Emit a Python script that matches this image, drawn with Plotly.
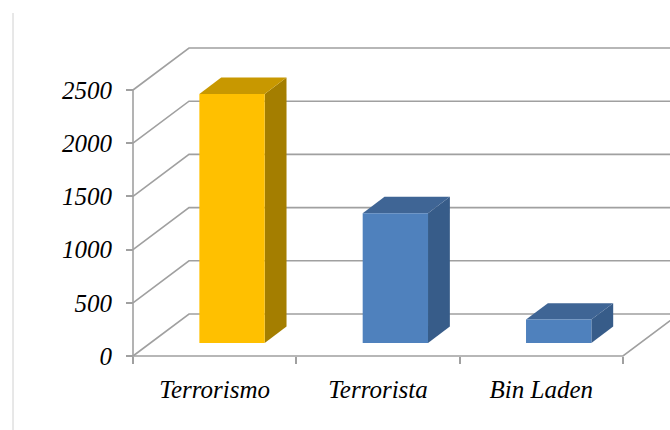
import plotly.graph_objects as go

# ---------------- data ----------------
categories = ["Terrorismo", "Terrorista", "Bin Laden"]
values = [2340, 1220, 220]
front_colors = ["#FFC000", "#4F81BD", "#4F81BD"]
top_colors = ["#C89800", "#3F6595", "#3F6595"]
side_colors = ["#A47E00", "#375C89", "#375C89"]
y_ticks = [0, 500, 1000, 1500, 2000, 2500]

# ---------------- geometry (oblique 3D projection) ----------------
W, H = 670, 430
X0_PX, Y0_PX = 133, 356          # pixel of (category 0, value 0) on front plane
CAT_PX = 163.33                   # pixels per category
VAL_PX = (356 - 90) / 2500        # pixels per value unit
DX = 56 / CAT_PX                  # depth shift in category units
DY = 42 / VAL_PX                  # depth shift in value units
BAR_W = 0.40
F0, F1 = 0.31, 0.70               # bar front / back depth fractions
N = len(categories)
GRID = "#A0A0A0"
FONT = dict(family="Liberation Serif, Times New Roman, serif", size=25,
            color="#000000", style="italic")

x_range = [-X0_PX / CAT_PX, (W - X0_PX) / CAT_PX]
y_range = [-(H - Y0_PX) / VAL_PX, Y0_PX / VAL_PX]

fig = go.Figure()

# grid: left wall diagonals + back wall horizontals
gx, gy = [], []
for t in y_ticks:
    gx += [0, DX, N + DX + 0.2, None]
    gy += [t, t + DY, t + DY, None]
# front vertical axis line
gx += [0, 0, None]
gy += [0, y_ticks[-1], None]
# floor front edge + right edge
gx += [0, N, N + DX, None]
gy += [0, 0, DY, None]
fig.add_trace(go.Scatter(x=gx, y=gy, mode="lines",
                         line=dict(color=GRID, width=1.6),
                         hoverinfo="skip", showlegend=False))

# bars
for i, (c, v) in enumerate(zip(categories, values)):
    xl = i + 0.5 - BAR_W / 2
    xr = i + 0.5 + BAR_W / 2
    fx0, fy0 = F0 * DX, F0 * DY
    fx1, fy1 = F1 * DX, F1 * DY
    # side face
    fig.add_trace(go.Scatter(
        x=[xr + fx0, xr + fx1, xr + fx1, xr + fx0, xr + fx0],
        y=[fy0, fy1, v + fy1, v + fy0, fy0],
        mode="lines", fill="toself", fillcolor=side_colors[i],
        line=dict(width=0, color=side_colors[i]),
        hoverinfo="skip", showlegend=False))
    # top face
    fig.add_trace(go.Scatter(
        x=[xl + fx0, xr + fx0, xr + fx1, xl + fx1, xl + fx0],
        y=[v + fy0, v + fy0, v + fy1, v + fy1, v + fy0],
        mode="lines", fill="toself", fillcolor=top_colors[i],
        line=dict(width=0, color=top_colors[i]),
        hoverinfo="skip", showlegend=False))
    # front face
    fig.add_trace(go.Scatter(
        x=[xl + fx0, xr + fx0, xr + fx0, xl + fx0, xl + fx0],
        y=[fy0, fy0, v + fy0, v + fy0, fy0],
        mode="lines", fill="toself", fillcolor=front_colors[i],
        line=dict(width=0, color=front_colors[i]),
        name=c, hovertemplate=f"{c}: {v}<extra></extra>", showlegend=False))

fig.update_layout(
    width=W, height=H,
    margin=dict(l=0, r=0, t=0, b=0),
    paper_bgcolor="white", plot_bgcolor="white",
    showlegend=False,
    xaxis=dict(range=x_range, anchor="free", position=(H - Y0_PX) / H,
               showgrid=False, zeroline=False, showline=False,
               tickvals=[i + 0.5 for i in range(N)], ticktext=categories,
               ticks="", tickfont=FONT, ticklabelstandoff=16,
               minor=dict(tickvals=list(range(N + 1)), ticks="outside",
                          ticklen=7, tickcolor=GRID, tickwidth=1.6, showgrid=False),
               fixedrange=True),
    yaxis=dict(range=y_range, anchor="free", position=X0_PX / W,
               showgrid=False, zeroline=False, showline=False,
               tickvals=y_ticks, ticks="outside", ticklen=7,
               tickcolor=GRID, tickwidth=1.6, tickfont=FONT,
               ticklabelstandoff=9, fixedrange=True),
    shapes=[dict(type="line", xref="paper", yref="paper",
                 x0=13 / W, x1=13 / W, y0=0, y1=(H - 13) / H,
                 line=dict(color="#D0D0D0", width=1))],
)

fig.write_html("out.html")
